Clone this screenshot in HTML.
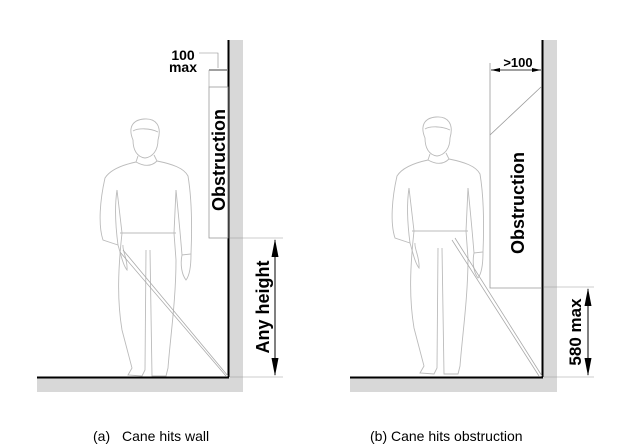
<!DOCTYPE html>
<html><head><meta charset="utf-8"><style>
html,body{margin:0;padding:0;background:#fff;}
svg{display:block}
</style></head><body>
<svg width="624" height="448" viewBox="0 0 624 448" xmlns="http://www.w3.org/2000/svg" font-family="Liberation Sans, sans-serif">
<defs>
<g id="man" fill="none" stroke="#bbb" stroke-width="0.9">
<path d="M133,140 C128,128 132,120 144,119 C156,118 162,126 158,140 C158,150 153,157 145,158 C137,157 133,150 133,140 Z"/>
<path d="M133,131 C138,128 150,128 158,132"/>
<path d="M138,156 L136,162 C145,167 152,166 157,161 L154,155"/>
<path d="M136,162 C122,165 110,170 105,178 C100,200 98,225 103,240 L118,245 C116,230 114,210 117,190"/>
<path d="M157,161 C172,164 184,168 188,176 C192,200 192,230 191,254 L182,255 C180,230 178,210 176,190"/>
<path d="M118,245 C121,255 123,265 127,270 C128,260 122,250 123,245"/>
<path d="M182,255 C180,265 182,275 186,280 C190,275 191,265 191,254"/>
<path d="M120,233 L176,233 M117,190 L122,233 M176,190 L174,233"/>
<path d="M122,233 C118,270 117,300 122,330 C126,345 130,360 132,368 L128,375 L142,376 L145,370 L146,250"/>
<path d="M150,250 L152,376 L166,376 L168,368 C170,340 176,300 176,260 L174,233"/>
</g>
</defs>

<!-- Panel A -->
<rect x="228" y="40" width="15" height="352" fill="#d8d8d8"/>
<rect x="37" y="377" width="206" height="15" fill="#d8d8d8"/>
<line x1="228.5" y1="40" x2="228.5" y2="377" stroke="#000" stroke-width="2"/>
<line x1="37" y1="377.5" x2="229" y2="377.5" stroke="#000" stroke-width="2"/>
<rect x="209" y="87" width="19" height="151" fill="none" stroke="#999" stroke-width="0.8"/>
<text transform="translate(225,160) rotate(-90)" text-anchor="middle" font-size="18" font-weight="bold">Obstruction</text>
<text x="183" y="60" text-anchor="middle" font-size="14" font-weight="bold">100</text>
<text x="183" y="72" text-anchor="middle" font-size="14" font-weight="bold">max</text>
<polyline points="199,53 218,53 218,68" fill="none" stroke="#888" stroke-width="0.6"/>
<line x1="209" y1="70" x2="227" y2="70" stroke="#000" stroke-width="0.8"/>
<line x1="209" y1="70" x2="209" y2="87" stroke="#999" stroke-width="0.6"/>
<line x1="230" y1="238" x2="283" y2="238" stroke="#999" stroke-width="0.6"/>
<line x1="230" y1="377" x2="283" y2="377" stroke="#999" stroke-width="0.6"/>
<line x1="275" y1="240" x2="275" y2="375" stroke="#000" stroke-width="1"/>
<path d="M275,239 L271.5,257 L278.5,257 Z M275,376 L271.5,358 L278.5,358 Z" fill="#000"/>
<text transform="translate(269,307) rotate(-90)" text-anchor="middle" font-size="18" font-weight="bold">Any height</text>
<use href="#man"/>
<line x1="120" y1="252" x2="226" y2="376" stroke="#aaa" stroke-width="0.8"/>
<line x1="123" y1="250" x2="228" y2="376" stroke="#aaa" stroke-width="0.8"/>

<!-- Panel B -->
<rect x="542" y="40" width="15" height="352" fill="#d8d8d8"/>
<rect x="350" y="377" width="207" height="15" fill="#d8d8d8"/>
<line x1="542.5" y1="40" x2="542.5" y2="377" stroke="#000" stroke-width="2"/>
<line x1="350" y1="377.5" x2="543" y2="377.5" stroke="#000" stroke-width="2"/>
<polyline points="490,63 490,288 541,288" fill="none" stroke="#999" stroke-width="0.8"/>
<line x1="490" y1="135" x2="541" y2="87" stroke="#999" stroke-width="0.8"/>
<line x1="491" y1="70" x2="541" y2="70" stroke="#000" stroke-width="0.8"/>
<path d="M491,70 L500,68 L500,72 Z M541,70 L532,68 L532,72 Z" fill="#000"/>
<text x="518" y="67" text-anchor="middle" font-size="13" font-weight="bold">&gt;100</text>
<text transform="translate(524,203) rotate(-90)" text-anchor="middle" font-size="18" font-weight="bold">Obstruction</text>
<line x1="544" y1="287" x2="594" y2="287" stroke="#999" stroke-width="0.6"/>
<line x1="544" y1="377" x2="594" y2="377" stroke="#999" stroke-width="0.6"/>
<line x1="588" y1="289" x2="588" y2="375" stroke="#000" stroke-width="1"/>
<path d="M588,288 L584.5,306 L591.5,306 Z M588,376 L584.5,358 L591.5,358 Z" fill="#000"/>
<text transform="translate(581,332) rotate(-90)" text-anchor="middle" font-size="17" font-weight="bold">580 max</text>
<use href="#man" transform="translate(292,-2)"/>
<line x1="452" y1="240" x2="539" y2="376" stroke="#aaa" stroke-width="0.8"/>
<line x1="455" y1="238" x2="542" y2="376" stroke="#aaa" stroke-width="0.8"/>

<text x="93" y="441" font-size="14">(a)</text>
<text x="122" y="441" font-size="14">Cane hits wall</text>
<text x="370" y="441" font-size="14">(b) Cane hits obstruction</text>
</svg>
</body></html>
